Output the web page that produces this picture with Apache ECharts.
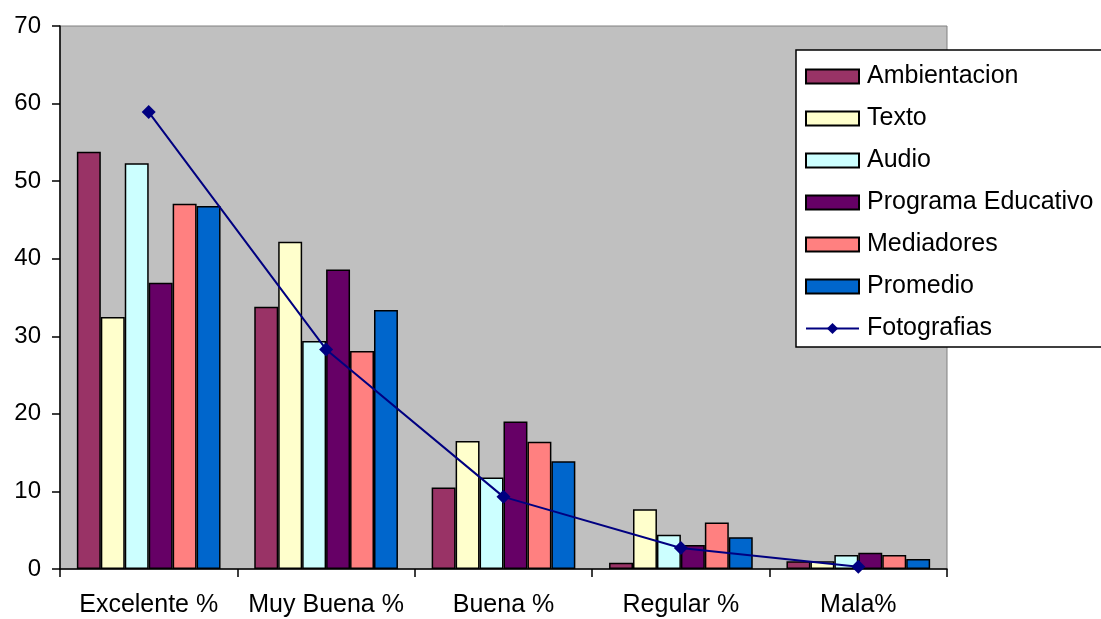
<!DOCTYPE html>
<html>
<head>
<meta charset="utf-8">
<script src="https://cdn.jsdelivr.net/npm/echarts@6/dist/echarts.min.js"></script>
<style>
  html, body { margin: 0; padding: 0; background: #ffffff; }
  #chart { width: 1101px; height: 619px; }
</style>
</head>
<body>
<div id="chart"></div>
<script>
// Categories and series values
const categories = ['Excelente %', 'Muy Buena %', 'Buena %', 'Regular %', 'Mala%'];
const ambientacion = [53.8, 33.8, 10.5, 0.8, 1.0];
const texto = [32.5, 42.2, 16.5, 7.7, 1.0];
const audio = [52.3, 29.4, 11.8, 4.4, 1.8];
const programaEducativo = [36.9, 38.6, 19.0, 3.1, 2.1];
const mediadores = [47.1, 28.1, 16.4, 6.0, 1.8];
const promedio = [46.8, 33.4, 13.9, 4.1, 1.3];
const fotografias = [58.9, 28.3, 9.3, 2.7, 0.3];

const FONT = '"Liberation Sans", Arial, sans-serif';

function barSeries(name, data, color) {
  return {
    name: name,
    type: 'bar',
    data: data,
    barGap: '0%',
    barCategoryGap: '19%',
    itemStyle: { color: color, borderColor: '#000000', borderWidth: 1.5 }
  };
}

const barNames = ['Ambientacion', 'Texto', 'Audio', 'Programa Educativo', 'Mediadores', 'Promedio'];
const legendData = barNames.map(function (n) { return { name: n, icon: 'rect' }; });
legendData.push({ name: 'Fotografias' });

const chart = echarts.init(document.getElementById('chart'), null, { renderer: 'canvas' });
chart.setOption({
  animation: false,
  textStyle: { fontFamily: FONT },
  grid: {
    left: 60, right: 154, top: 26, bottom: 50,
    show: true,
    backgroundColor: '#c0c0c0',
    borderColor: '#808080',
    borderWidth: 1
  },
  legend: {
    orient: 'vertical',
    left: 796, top: 50,
    backgroundColor: '#ffffff',
    borderColor: '#000000',
    borderWidth: 1.5,
    padding: [14, 20, 6, 9],
    itemWidth: 53,
    itemHeight: 14,
    itemGap: 17,
    textStyle: { fontFamily: FONT, fontSize: 25, color: '#000000', padding: [0, 0, 0, 3] },
    data: legendData
  },
  xAxis: {
    type: 'category',
    data: categories,
    axisLine: { lineStyle: { color: '#000000', width: 1.5 } },
    axisTick: { show: true, interval: 0, length: 8, lineStyle: { color: '#000000', width: 1.5 } },
    axisLabel: { interval: 0, fontFamily: FONT, fontSize: 25, color: '#000000', margin: 24 },
    splitLine: { show: false }
  },
  yAxis: {
    type: 'value',
    min: 0, max: 70, interval: 10,
    axisLine: { show: true, lineStyle: { color: '#000000', width: 1.5 } },
    axisTick: { show: true, length: 8, lineStyle: { color: '#000000', width: 1.5 } },
    axisLabel: { fontFamily: FONT, fontSize: 24, color: '#000000', margin: 19 },
    splitLine: { show: false }
  },
  series: [
    barSeries('Ambientacion', ambientacion, '#993366'),
    barSeries('Texto', texto, '#ffffcc'),
    barSeries('Audio', audio, '#ccffff'),
    barSeries('Programa Educativo', programaEducativo, '#660066'),
    barSeries('Mediadores', mediadores, '#ff8080'),
    barSeries('Promedio', promedio, '#0066cc'),
    {
      name: 'Fotografias',
      type: 'line',
      data: fotografias,
      z: 5,
      symbol: 'diamond',
      symbolSize: 14,
      lineStyle: { color: '#000080', width: 2 },
      itemStyle: { color: '#000080' }
    }
  ]
});
</script>
</body>
</html>
